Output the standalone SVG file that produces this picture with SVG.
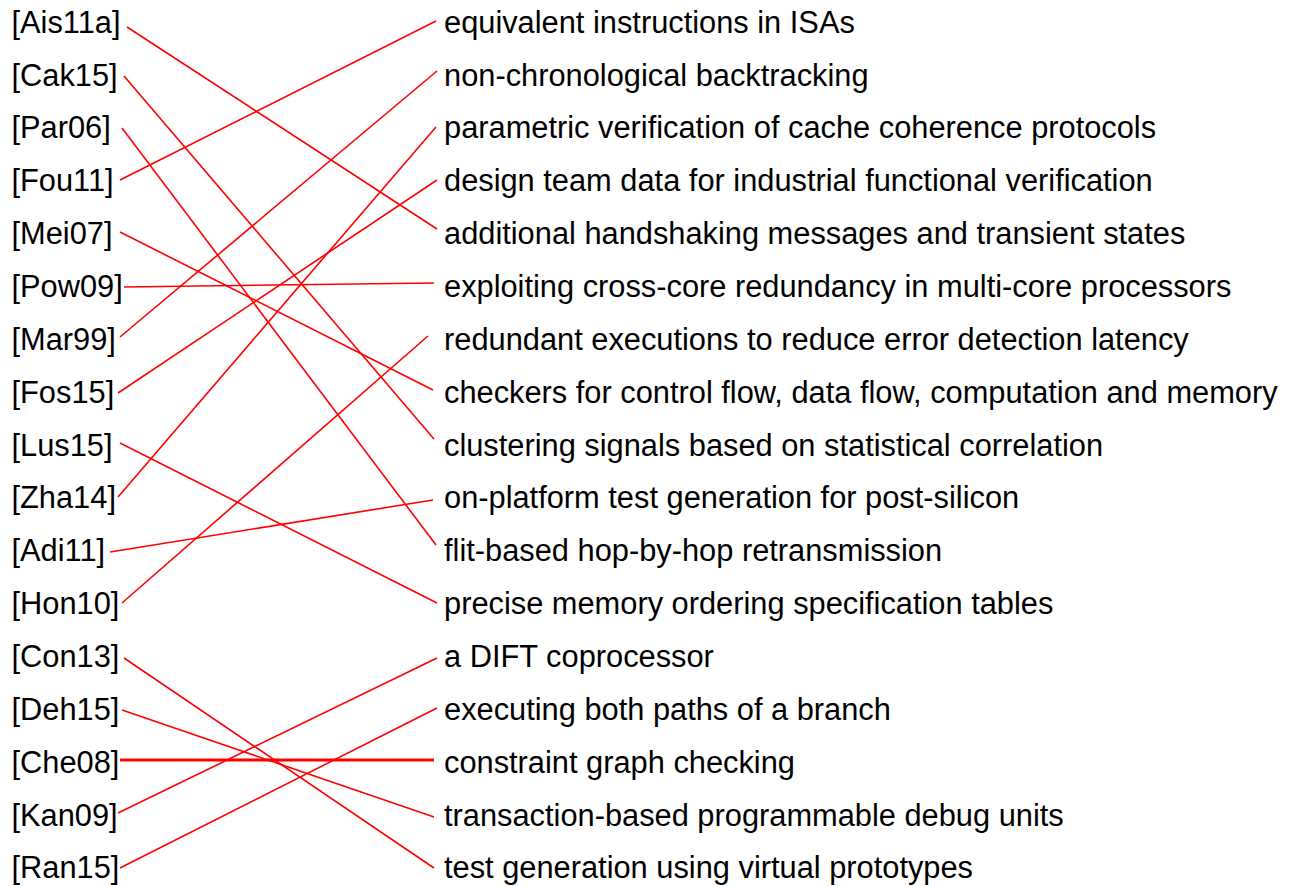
<svg xmlns="http://www.w3.org/2000/svg" width="1291" height="886" viewBox="0 0 1291 886">
<style>
text{font-family:"Liberation Sans",Arial,sans-serif;font-size:30.8px;fill:#000}
.c line{stroke:#ff0000;stroke-width:1.6;fill:none}
.c line.thick{stroke-width:3}
</style>
<rect width="1291" height="886" fill="#fff"/>
<g class="c" id="connectors">
<line x1="127" y1="27" x2="437" y2="229"/>
<line x1="124" y1="76" x2="434" y2="439"/>
<line x1="122" y1="128" x2="436" y2="545"/>
<line x1="120" y1="180" x2="436" y2="21"/>
<line x1="120" y1="232" x2="433" y2="390"/>
<line x1="124" y1="287" x2="434" y2="283"/>
<line x1="120" y1="337" x2="437" y2="71"/>
<line x1="118" y1="393" x2="437" y2="180"/>
<line x1="120" y1="443" x2="437" y2="603"/>
<line x1="118" y1="497" x2="436" y2="127"/>
<line x1="110" y1="552" x2="433" y2="500"/>
<line x1="122" y1="603" x2="428" y2="336"/>
<line x1="124" y1="658" x2="434" y2="868"/>
<line x1="122" y1="710" x2="434" y2="817"/>
<line class="thick" x1="120" y1="760" x2="434" y2="760"/>
<line x1="118" y1="813" x2="437" y2="658"/>
<line x1="120" y1="868" x2="437" y2="708"/>
</g>
<g id="left">
<g id="n-Ais11a"><text x="11.5" y="32.7">[Ais11a]</text></g>
<g id="n-Cak15"><text x="11.5" y="85.5">[Cak15]</text></g>
<g id="n-Par06"><text x="11.5" y="138.4">[Par06]</text></g>
<g id="n-Fou11"><text x="11.5" y="191.3">[Fou11]</text></g>
<g id="n-Mei07"><text x="11.5" y="244.1">[Mei07]</text></g>
<g id="n-Pow09"><text x="11.5" y="297">[Pow09]</text></g>
<g id="n-Mar99"><text x="11.5" y="349.8">[Mar99]</text></g>
<g id="n-Fos15"><text x="11.5" y="402.7">[Fos15]</text></g>
<g id="n-Lus15"><text x="11.5" y="455.5">[Lus15]</text></g>
<g id="n-Zha14"><text x="11.5" y="508.4">[Zha14]</text></g>
<g id="n-Adi11"><text x="11.5" y="561.2">[Adi11]</text></g>
<g id="n-Hon10"><text x="11.5" y="614.1">[Hon10]</text></g>
<g id="n-Con13"><text x="11.5" y="666.9">[Con13]</text></g>
<g id="n-Deh15"><text x="11.5" y="719.8">[Deh15]</text></g>
<g id="n-Che08"><text x="11.5" y="772.6">[Che08]</text></g>
<g id="n-Kan09"><text x="11.5" y="825.5">[Kan09]</text></g>
<g id="n-Ran15"><text x="11.5" y="878.3">[Ran15]</text></g>
</g>
<g id="right">
<g id="r0"><text x="444" y="32.7">equivalent instructions in ISAs</text></g>
<g id="r1"><text x="444" y="85.5">non-chronological backtracking</text></g>
<g id="r2"><text x="444" y="138.4">parametric verification of cache coherence protocols</text></g>
<g id="r3"><text x="444" y="191.3">design team data for industrial functional verification</text></g>
<g id="r4"><text x="444" y="244.1">additional handshaking messages and transient states</text></g>
<g id="r5"><text x="444" y="297">exploiting cross-core redundancy in multi-core processors</text></g>
<g id="r6"><text x="444" y="349.8">redundant executions to reduce error detection latency</text></g>
<g id="r7"><text x="444" y="402.7">checkers for control flow, data flow, computation and memory</text></g>
<g id="r8"><text x="444" y="455.5">clustering signals based on statistical correlation</text></g>
<g id="r9"><text x="444" y="508.4">on-platform test generation for post-silicon</text></g>
<g id="r10"><text x="444" y="561.2">flit-based hop-by-hop retransmission</text></g>
<g id="r11"><text x="444" y="614.1">precise memory ordering specification tables</text></g>
<g id="r12"><text x="444" y="666.9">a DIFT coprocessor</text></g>
<g id="r13"><text x="444" y="719.8">executing both paths of a branch</text></g>
<g id="r14"><text x="444" y="772.6">constraint graph checking</text></g>
<g id="r15"><text x="444" y="825.5">transaction-based programmable debug units</text></g>
<g id="r16"><text x="444" y="878.3">test generation using virtual prototypes</text></g>
</g>
</svg>
